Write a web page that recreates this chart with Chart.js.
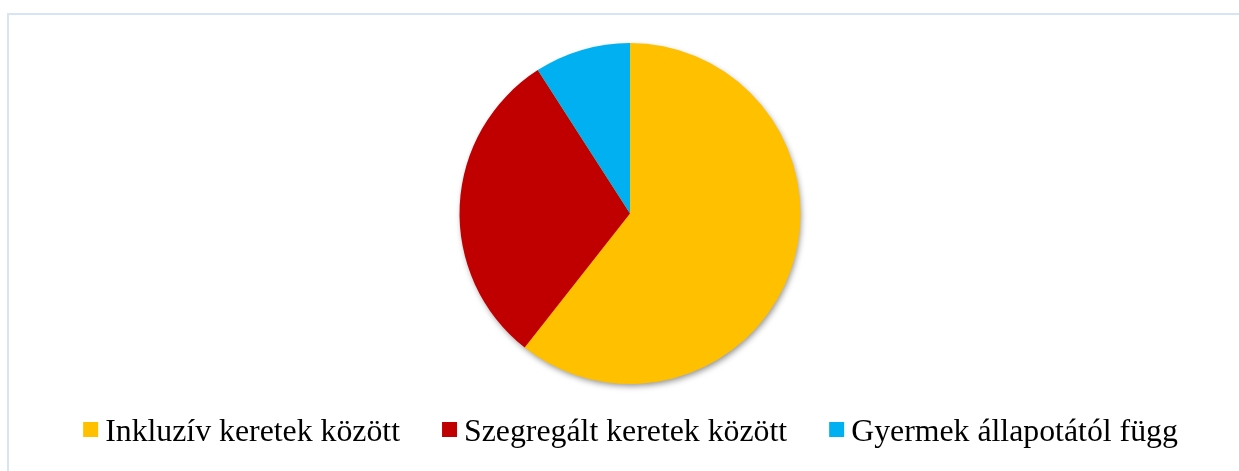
<!DOCTYPE html>
<html>
<head>
<meta charset="utf-8">
<script src="https://cdn.jsdelivr.net/npm/chart.js@4/dist/chart.umd.min.js"></script>
<style>
  html, body { margin: 0; padding: 0; background: #ffffff; }
  #wrap { position: relative; width: 1239px; height: 471px; overflow: hidden; }
  #frame { position: absolute; left: 7px; top: 13px; width: 1300px; height: 520px;
           border: 2px solid #d7e4f5; box-sizing: border-box; }
  canvas { position: absolute; left: 0; top: 0; }
</style>
</head>
<body>
<div id="wrap">
  <div id="frame"></div>
  <canvas id="c" width="1239" height="471"></canvas>
</div>
<script>
const categories = ['Inkluzív keretek között', 'Szegregált keretek között', 'Gyermek állapotától függ'];
const values = [60.6, 30.3, 9.1];
const colors = ['#FFC000', '#C00000', '#00B0F0'];

const shadowPlugin = {
  id: 'pieShadow',
  beforeDatasetsDraw(chart) {
    const meta = chart.getDatasetMeta(0);
    if (!meta.data.length) return;
    const a = meta.data[0];
    const ctx = chart.ctx;
    ctx.save();
    ctx.shadowColor = 'rgba(0,0,0,0.45)';
    ctx.shadowBlur = 6;
    ctx.shadowOffsetX = 1.5;
    ctx.shadowOffsetY = 3;
    ctx.beginPath();
    ctx.arc(a.x, a.y, a.outerRadius - 1, 0, Math.PI * 2);
    ctx.fillStyle = '#FFC000';
    ctx.fill();
    ctx.restore();
  }
};

const legendPlugin = {
  id: 'serifLegend',
  afterDraw(chart) {
    const ctx = chart.ctx;
    const labels = chart.data.labels;
    const bg = chart.data.datasets[0].backgroundColor;
    const box = 15, gapText = 7, gapItem = 42;
    ctx.save();
    ctx.font = '31.8px "Liberation Serif", "Times New Roman", serif';
    ctx.textBaseline = 'alphabetic';
    const widths = labels.map(l => ctx.measureText(l).width);
    let total = 0;
    widths.forEach((w, i) => { total += box + gapText + w + (i < widths.length - 1 ? gapItem : 0); });
    let x = 630.5 - total / 2;
    const boxTop = 422, baseline = 441;
    labels.forEach((l, i) => {
      ctx.fillStyle = bg[i];
      ctx.fillRect(x, boxTop, box, box);
      x += box + gapText;
      ctx.fillStyle = '#000000';
      ctx.fillText(l, x, baseline);
      x += widths[i] + gapItem;
    });
    ctx.restore();
  }
};

new Chart(document.getElementById('c'), {
  type: 'pie',
  data: {
    labels: categories,
    datasets: [{
      data: values,
      backgroundColor: colors,
      borderWidth: 0,
      hoverOffset: 0
    }]
  },
  options: {
    responsive: false,
    animation: false,
    layout: { padding: { top: 43, bottom: 87, left: 21, right: 0 } },
    plugins: {
      legend: { display: false },
      tooltip: { enabled: false }
    }
  },
  plugins: [shadowPlugin, legendPlugin]
});
</script>
</body>
</html>
